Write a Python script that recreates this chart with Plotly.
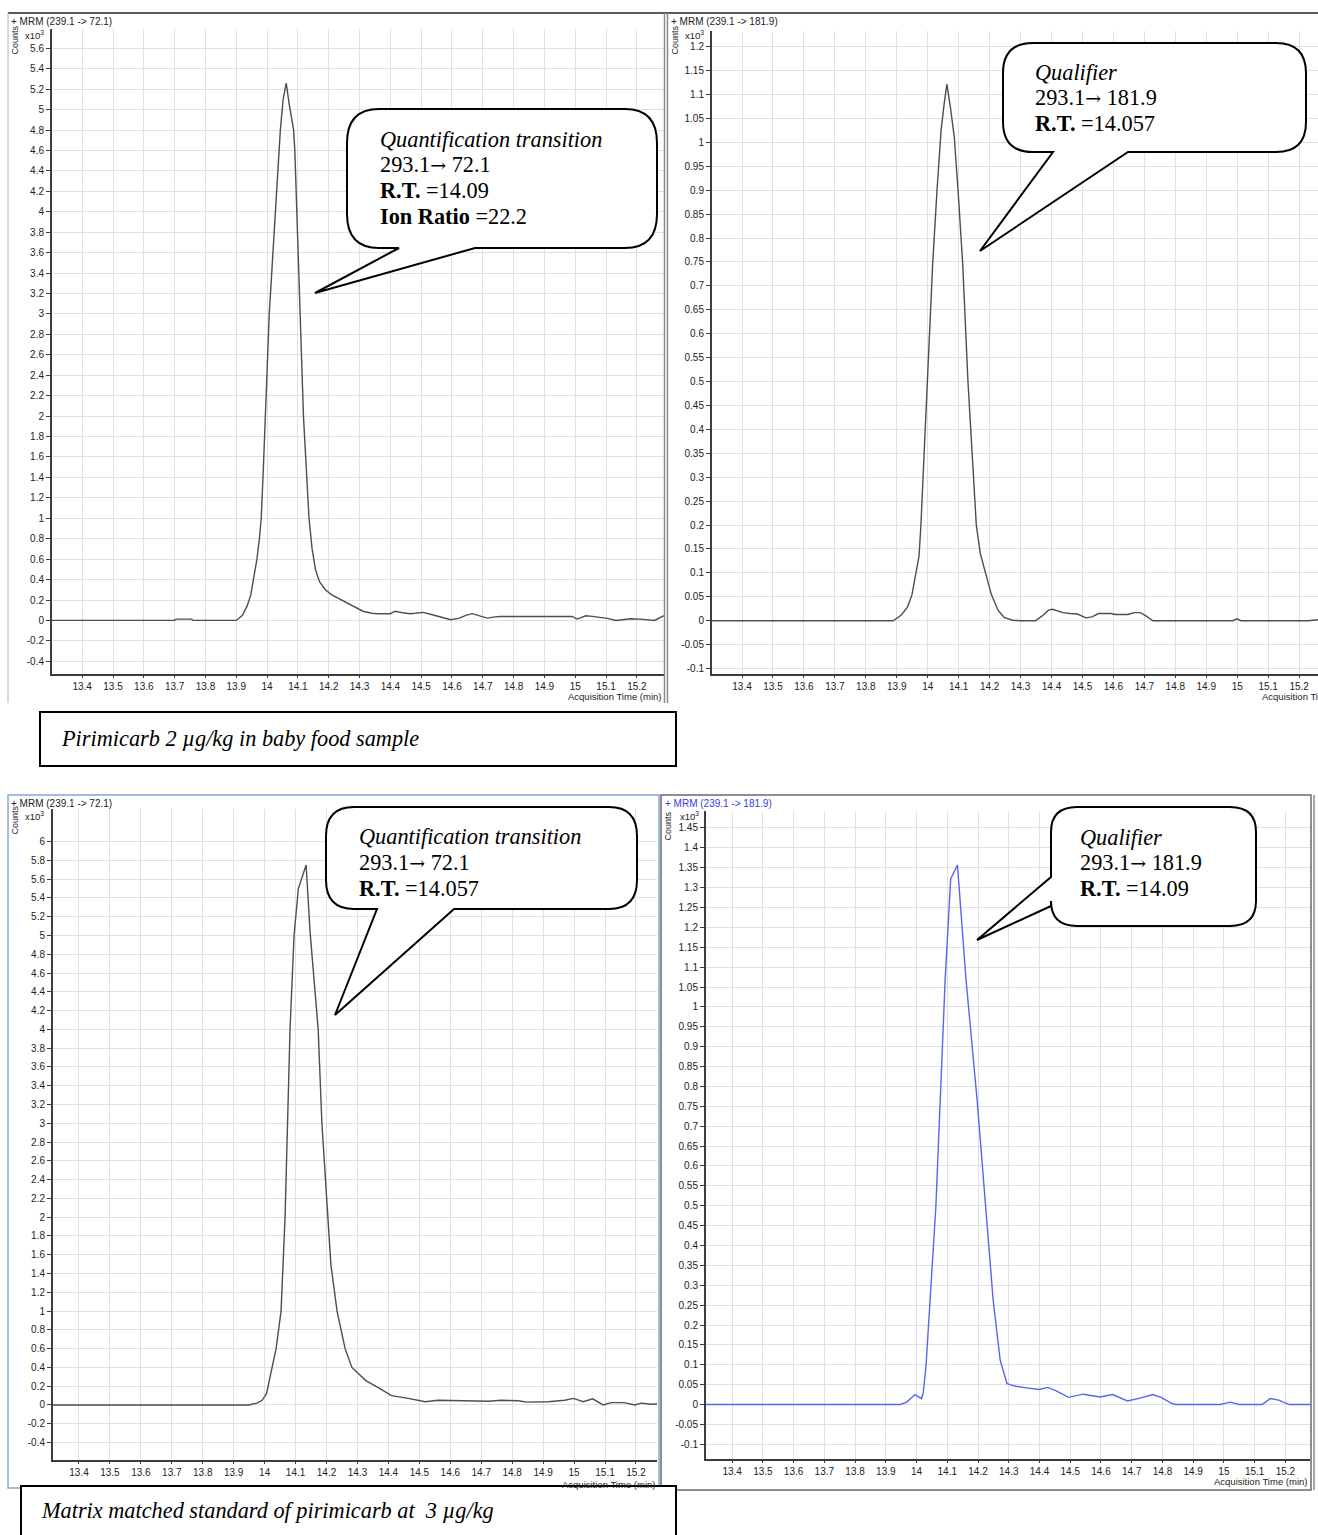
import plotly.graph_objects as go

W, H = 1318, 1535

# ---------------- data (counts are x10^3) ----------------
# Baby food sample, transition 239.1 -> 72.1
t_sample_q = [13.302, 13.699, 13.705, 13.755, 13.76, 13.90, 13.92, 13.935, 13.947, 13.956,
              13.967, 13.975, 13.981, 13.988, 13.994, 14.000, 14.007, 14.017, 14.027, 14.036,
              14.043, 14.052, 14.062, 14.072, 14.086, 14.090, 14.096, 14.107, 14.118, 14.127,
              14.136, 14.146, 14.157, 14.170, 14.189, 14.21, 14.241, 14.275, 14.311, 14.34,
              14.36, 14.40, 14.415, 14.44, 14.464, 14.48, 14.506, 14.53, 14.561, 14.596,
              14.624, 14.645, 14.666, 14.69, 14.714, 14.74, 14.756, 14.85, 14.99, 15.006,
              15.034, 15.055, 15.076, 15.105, 15.132, 15.155, 15.18, 15.22, 15.257, 15.288]
c_sample_q = [0, 0, 0.013, 0.013, 0, 0, 0.05, 0.14, 0.25, 0.4,
              0.6, 0.8, 1.0, 1.5, 2.0, 2.5, 3.0, 3.5, 4.0, 4.5,
              4.8, 5.1, 5.26, 5.05, 4.8, 4.6, 4.0, 3.0, 2.0, 1.5,
              1.0, 0.7, 0.5, 0.38, 0.3, 0.25, 0.2, 0.14, 0.09, 0.07,
              0.066, 0.066, 0.09, 0.075, 0.066, 0.07, 0.079, 0.06, 0.033, 0.007,
              0.023, 0.05, 0.066, 0.045, 0.023, 0.035, 0.039, 0.039, 0.039, 0.013,
              0.046, 0.04, 0.033, 0.02, 0.0, 0.01, 0.016, 0.01, 0.0, 0.046]

# Baby food sample, transition 239.1 -> 181.9
t_sample_r = [13.303, 13.888, 13.915, 13.935, 13.949, 13.962, 13.972, 13.978, 13.988, 14.0,
              14.016, 14.03, 14.043, 14.053, 14.062, 14.074, 14.086, 14.1, 14.113, 14.13,
              14.145, 14.157, 14.17, 14.179, 14.193, 14.206, 14.227, 14.247, 14.274, 14.30,
              14.348, 14.37, 14.39, 14.403, 14.415, 14.437, 14.46, 14.484, 14.511, 14.531,
              14.552, 14.592, 14.606, 14.647, 14.667, 14.687, 14.705, 14.728, 14.985, 14.999,
              15.012, 15.229, 15.261]
c_sample_r = [0, 0, 0.012, 0.029, 0.054, 0.1, 0.136, 0.2, 0.35, 0.5,
              0.746, 0.9, 1.024, 1.08, 1.122, 1.07, 1.01, 0.88, 0.746, 0.5,
              0.32, 0.2, 0.14, 0.12, 0.085, 0.054, 0.022, 0.007, 0.001, 0,
              0, 0.01, 0.022, 0.024, 0.022, 0.017, 0.015, 0.014, 0.006, 0.008,
              0.015, 0.015, 0.013, 0.013, 0.017, 0.017, 0.01, 0, 0, 0.004,
              0, 0, 0.002]

# Matrix matched standard, transition 239.1 -> 72.1
t_std_q = [13.316, 13.95, 13.975, 13.992, 14.006, 14.015, 14.025, 14.037, 14.053, 14.066,
           14.082, 14.095, 14.109, 14.134, 14.147, 14.173, 14.185, 14.205, 14.214, 14.234,
           14.26, 14.282, 14.315, 14.327, 14.37, 14.41, 14.464, 14.519, 14.56, 14.656,
           14.724, 14.765, 14.82, 14.847, 14.916, 14.97, 14.998, 15.03, 15.06, 15.094,
           15.12, 15.162, 15.196, 15.217, 15.25, 15.268]
c_std_q = [0, 0, 0.02, 0.05, 0.12, 0.26, 0.4, 0.6, 1.0, 2.0,
           4.0, 5.0, 5.5, 5.75, 5.03, 4.0, 3.0, 2.0, 1.5, 1.0,
           0.6, 0.4, 0.3, 0.26, 0.18, 0.1, 0.07, 0.035, 0.05, 0.04,
           0.04, 0.05, 0.045, 0.03, 0.035, 0.05, 0.07, 0.035, 0.065, 0.0,
           0.025, 0.025, 0.0, 0.02, 0.007, 0.01]

# Matrix matched standard, transition 239.1 -> 181.9
t_std_r = [13.315, 13.947, 13.968, 13.995, 14.016, 14.022, 14.031, 14.063, 14.093, 14.111,
           14.133, 14.141, 14.161, 14.197, 14.223, 14.249, 14.272, 14.294, 14.303, 14.323,
           14.358, 14.399, 14.426, 14.453, 14.494, 14.542, 14.597, 14.638, 14.686, 14.727,
           14.768, 14.795, 14.83, 14.843, 14.987, 15.021, 15.048, 15.124, 15.151, 15.178,
           15.213, 15.28]
c_std_r = [0, 0, 0.006, 0.025, 0.015, 0.03, 0.1, 0.5, 1.068, 1.322,
           1.357, 1.277, 1.068, 0.766, 0.515, 0.264, 0.112, 0.053, 0.05, 0.046,
           0.042, 0.038, 0.043, 0.035, 0.018, 0.026, 0.019, 0.025, 0.009, 0.016,
           0.025, 0.018, 0.003, 0, 0, 0.006, 0, 0, 0.015, 0.011,
           0, 0]

# tick labels
time_ticks = [13.4, 13.5, 13.6, 13.7, 13.8, 13.9, 14.0, 14.1, 14.2, 14.3,
              14.4, 14.5, 14.6, 14.7, 14.8, 14.9, 15.0, 15.1, 15.2]
quant_sample_ticks = [-0.4, -0.2, 0, 0.2, 0.4, 0.6, 0.8, 1, 1.2, 1.4, 1.6, 1.8, 2, 2.2, 2.4,
                      2.6, 2.8, 3, 3.2, 3.4, 3.6, 3.8, 4, 4.2, 4.4, 4.6, 4.8, 5, 5.2, 5.4, 5.6]
qual_sample_ticks = [-0.1, -0.05, 0, 0.05, 0.1, 0.15, 0.2, 0.25, 0.3, 0.35, 0.4, 0.45, 0.5,
                     0.55, 0.6, 0.65, 0.7, 0.75, 0.8, 0.85, 0.9, 0.95, 1, 1.05, 1.1, 1.15, 1.2]
quant_std_ticks = [-0.4, -0.2, 0, 0.2, 0.4, 0.6, 0.8, 1, 1.2, 1.4, 1.6, 1.8, 2, 2.2, 2.4,
                   2.6, 2.8, 3, 3.2, 3.4, 3.6, 3.8, 4, 4.2, 4.4, 4.6, 4.8, 5, 5.2, 5.4,
                   5.6, 5.8, 6]
qual_std_ticks = [-0.1, -0.05, 0, 0.05, 0.1, 0.15, 0.2, 0.25, 0.3, 0.35, 0.4, 0.45, 0.5,
                  0.55, 0.6, 0.65, 0.7, 0.75, 0.8, 0.85, 0.9, 0.95, 1, 1.05, 1.1, 1.15,
                  1.2, 1.25, 1.3, 1.35, 1.4, 1.45]

headers = ["+ MRM (239.1 -> 72.1)", "+ MRM (239.1 -> 181.9)",
           "+ MRM (239.1 -> 72.1)", "+ MRM (239.1 -> 181.9)"]
captions = ["Pirimicarb 2 µg/kg in baby food sample",
            "Matrix matched standard of pirimicarb at\u00a0 3 µg/kg"]
ARROW = "<span style=\"font-family:DejaVu Serif;font-size:19px\">\u2192</span>"
callouts = [
    ["<i>Quantification transition</i>", "293.1" + ARROW + " 72.1", "<b>R.T.</b> =14.09",
     "<b>Ion Ratio</b> =22.2"],
    ["<i>Qualifier</i>", "293.1" + ARROW + " 181.9", "<b>R.T.</b> =14.057"],
    ["<i>Quantification transition</i>", "293.1" + ARROW + " 72.1", "<b>R.T.</b> =14.057"],
    ["<i>Qualifier</i>", "293.1" + ARROW + " 181.9", "<b>R.T.</b> =14.09"],
]

# ---------------- helpers (pixel -> paper) ----------------
def px(x):
    return x / W


def py(y):
    return 1 - y / H


GRID = "#e0e0e0"
AXIS = "#3c3c3c"
SMALL = dict(family="Liberation Sans", size=10, color="#222222")
SERIF = "Liberation Serif"
SERIF_SIZE = 22.3

fig = go.Figure()

panels = [
    # (x-domain px, y-domain px, x-range, y-range, yticks, color, t, c)
    ((52, 664), (29, 674), [13.302, 15.288], [-0.5245, 5.79], quant_sample_ticks,
     "#4e4e4e", t_sample_q, c_sample_q),
    ((712, 1318), (30.7, 674), [13.303, 15.261], [-0.1114, 1.2335], qual_sample_ticks,
     "#4e4e4e", t_sample_r, c_sample_r),
    ((53, 657), (809, 1460), [13.316, 15.268], [-0.586, 6.347], quant_std_ticks,
     "#4e4e4e", t_std_q, c_std_q),
    ((706, 1310), (811, 1459), [13.315, 15.28], [-0.137, 1.4927], qual_std_ticks,
     "#5a64f0", t_std_r, c_std_r),
]

layout_axes = {}
for i, (xd, yd, xr, yr, yt, col, t, c) in enumerate(panels, start=1):
    sfx = "" if i == 1 else str(i)
    fig.add_trace(go.Scatter(x=t, y=c, mode="lines", xaxis="x" + sfx, yaxis="y" + sfx,
                             line=dict(color=col, width=1.4), showlegend=False,
                             hoverinfo="skip"))
    layout_axes["xaxis" + sfx] = dict(
        domain=[px(xd[0]), px(xd[1])], range=xr, anchor="y" + sfx,
        tickmode="array", tickvals=time_ticks, ticktext=[f"{v:g}" for v in time_ticks],
        showgrid=True, gridcolor=GRID, gridwidth=1, zeroline=False,
        showline=True, linecolor=AXIS, linewidth=2,
        ticks="outside", ticklen=2, tickcolor=AXIS, tickfont=SMALL)
    layout_axes["yaxis" + sfx] = dict(
        domain=[py(yd[1]), py(yd[0])], range=yr, anchor="x" + sfx,
        tickmode="array", tickvals=yt, ticktext=[f"{v:g}" for v in yt],
        showgrid=True, gridcolor=GRID, gridwidth=1, zeroline=False,
        showline=True, linecolor=AXIS, linewidth=2,
        ticks="outside", ticklen=4, tickcolor=AXIS, tickfont=SMALL)

shapes = []
annotations = []

# ---------------- panel frames ----------------
def line(x0, y0, x1, y1, color, width):
    shapes.append(dict(type="line", xref="paper", yref="paper",
                       x0=px(x0), y0=py(y0), x1=px(x1), y1=py(y1),
                       line=dict(color=color, width=width), layer="above"))


line(8, 13, 1318, 13, "#5a5a5a", 2)
line(8, 13, 8, 703, "#b0b0b0", 1)
line(664.5, 13, 664.5, 703, "#8a8a8a", 1.5)
line(667.5, 13, 667.5, 703, "#8a8a8a", 1.5)
# matrix standard panels
shapes.append(dict(type="rect", xref="paper", yref="paper", x0=px(8), y0=py(1488),
                   x1=px(659), y1=py(795), line=dict(color="#86a6dc", width=1.5),
                   layer="above"))
shapes.append(dict(type="rect", xref="paper", yref="paper", x0=px(661), y0=py(1490),
                   x1=px(1311), y1=py(795), line=dict(color="#6a6a6a", width=1.5),
                   layer="above"))
line(1314, 795, 1314, 1490, "#8a8a8a", 1.5)

# ---------------- panel texts ----------------
def text(x, y, s, font, xanchor="left", yanchor="middle", angle=0):
    annotations.append(dict(xref="paper", yref="paper", x=px(x), y=py(y), text=s,
                            showarrow=False, xanchor=xanchor, yanchor=yanchor,
                            font=font, textangle=angle))


panel_text = [
    # header pos, counts pos, x10 pos, acquisition pos
    ((9, 21), (14.5, 40), (23, 35), (663, 696)),
    ((669, 21), (674.5, 40), (683, 35), (1357, 696)),
    ((9, 803), (14.5, 820), (23, 816), (657, 1484)),
    ((663, 803), (667.5, 826), (678, 816), (1309, 1481)),
]
for i, (hp, cp, xp, ap) in enumerate(panel_text):
    hcol = "#3a3ae8" if i == 3 else "#222222"
    text(hp[0], hp[1], headers[i], dict(family="Liberation Sans", size=10, color=hcol))
    text(cp[0], cp[1], "Counts", dict(family="Liberation Sans", size=9, color="#222222"),
         xanchor="center", angle=-90)
    text(xp[0], xp[1], "x10<sup>3</sup>", dict(family="Liberation Sans", size=9.5,
                                               color="#222222"))
    text(ap[0], ap[1], "Acquisition Time (min)",
         dict(family="Liberation Sans", size=9.5, color="#222222"), xanchor="right")

# ---------------- callout bubbles ----------------
def bubble(x0, y0, x1, y1, rx, ry, side, b1, b2, tip):
    P = lambda x, y: f"{px(x):.6f},{py(y):.6f}"
    d = f"M{P(x0 + rx, y0)} L{P(x1 - rx, y0)} Q{P(x1, y0)} {P(x1, y0 + ry)} "
    d += f"L{P(x1, y1 - ry)} Q{P(x1, y1)} {P(x1 - rx, y1)} "
    if side == "bottom":
        d += f"L{P(b2, y1)} L{P(*tip)} L{P(b1, y1)} "
        d += f"L{P(x0 + rx, y1)} Q{P(x0, y1)} {P(x0, y1 - ry)} L{P(x0, y0 + ry)} "
    else:
        d += f"L{P(x0 + rx, y1)} Q{P(x0, y1)} {P(x0, y1 - ry)} "
        d += f"L{P(x0, b2)} L{P(*tip)} L{P(x0, b1)} L{P(x0, y0 + ry)} "
    d += f"Q{P(x0, y0)} {P(x0 + rx, y0)} Z"
    shapes.append(dict(type="path", xref="paper", yref="paper", path=d,
                       fillcolor="white", line=dict(color="black", width=2),
                       layer="above"))


bubble(347, 109, 657, 248, 32, 34, "bottom", 399, 475, (315, 293))
bubble(1003, 43, 1306, 152, 30, 30, "bottom", 1053, 1128, (980, 251))
bubble(326, 807, 637, 909, 28, 29, "bottom", 377, 454, (335, 1015))
bubble(1051, 807, 1256, 926, 26, 25, "left", 877, 906, (977, 940))

callout_pos = [(378, [139, 164.5, 190, 216.5]),
               (1033, [72.5, 98, 123.5]),
               (357, [836.5, 862.5, 888.5]),
               (1078, [837, 862.5, 888.5])]
for lines, (x, ys) in zip(callouts, callout_pos):
    for s, y in zip(lines, ys):
        text(x, y, s, dict(family=SERIF, size=SERIF_SIZE, color="black"))

# ---------------- caption boxes ----------------
shapes.append(dict(type="rect", xref="paper", yref="paper", x0=px(40), y0=py(766),
                   x1=px(676), y1=py(712), line=dict(color="black", width=2),
                   fillcolor="white", layer="above"))
shapes.append(dict(type="rect", xref="paper", yref="paper", x0=px(21), y0=py(1545),
                   x1=px(676), y1=py(1486), line=dict(color="black", width=2),
                   fillcolor="white", layer="above"))
text(59, 738, "<i>" + captions[0] + "</i>", dict(family=SERIF, size=SERIF_SIZE,
                                                 color="black"))
text(39, 1510, "<i>" + captions[1] + "</i>", dict(family=SERIF, size=SERIF_SIZE,
                                                  color="black"))

fig.update_layout(
    width=W, height=H, margin=dict(l=0, r=0, t=0, b=0),
    paper_bgcolor="white", plot_bgcolor="white", showlegend=False,
    shapes=shapes, annotations=annotations, **layout_axes)

fig.write_html("out.html")
